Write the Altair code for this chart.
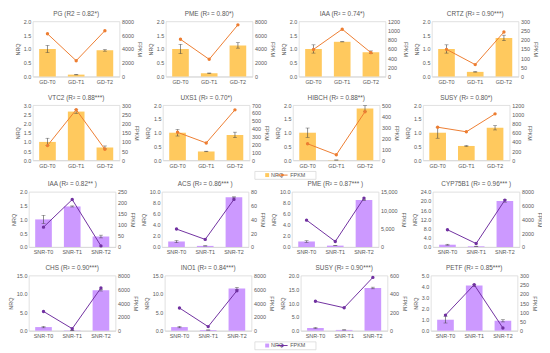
import altair as alt
import pandas as pd

GD = ["GD-T0", "GD-T1", "GD-T2"]
SNR = ["SNR-T0", "SNR-T1", "SNR-T2"]

titles = [
    "PG (R2 = 0.82*)", "PME (R² = 0.80*)", "IAA (R² = 0.74*)", "CRTZ (R² = 0.90***)",
    "VTC2 (R² = 0.88***)", "UXS1 (R² = 0.70*)", "HIBCH (R² = 0.88**)", "SUSY (R² = 0.80*)",
    "IAA (R² = 0.82** )", "ACS (R² = 0.86*** )", "PME (R² = 0.87*** )", "CYP75B1 (R² = 0.96*** )",
    "CHS (R² = 0.90***)", "INO1 (R² = 0.84***)", "SUSY (R² = 0.90***)", "PETF (R² = 0.85***)",
]

nrq = [
    [1.0, 0.07, 0.95], [1.0, 0.12, 1.13], [1.0, 1.26, 0.88], [1.0, 0.17, 1.40],
    [1.0, 2.65, 0.70], [1.0, 0.32, 0.92], [1.0, 0.01, 1.88], [1.0, 0.52, 1.18],
    [1.0, 1.47, 0.38], [1.0, 0.20, 9.0], [1.0, 0.25, 8.5], [1.0, 0.30, 20.0],
    [1.0, 0.10, 11.0], [1.0, 0.20, 11.5], [1.0, 0.30, 15.5], [1.0, 4.10, 0.90],
]
nrq_err = [
    [0.13, 0.01, 0.03], [0.17, 0.01, 0.10], [0.15, 0.005, 0.05], [0.15, 0.01, 0.10],
    [0.20, 0.10, 0.08], [0.12, 0.01, 0.10], [0.17, 0.0, 0.10], [0.20, 0.02, 0.08],
    [0.15, 0.02, 0.05], [0.20, 0.02, 0.10], [0.15, 0.02, 0.10], [0.20, 0.05, 0.50],
    [0.20, 0.02, 0.20], [0.20, 0.02, 0.30], [0.20, 0.05, 0.30], [0.30, 0.10, 0.10],
]
fpkm = [
    [6200, 2300, 6650], [5400, 2500, 7500], [590, 1030, 520], [148, 65, 242],
    [80, 275, 60], [355, 220, 640], [150, 50, 440], [720, 620, 1010],
    [90, 215, 5], [26, 11, 69], [7300, 1500, 13300], [2500, 500, 6800],
    [2800, 300, 6200], [3300, 600, 5800], [320, 250, 580], [85, 250, 15],
]
nrq_ticks = [
    [0, 0.5, 1.0, 1.5, 2.0], [0, 0.5, 1.0, 1.5, 2.0], [0, 0.5, 1.0, 1.5, 2.0], [0, 0.5, 1.0, 1.5, 2.0],
    [0, 0.5, 1.0, 1.5, 2.0, 2.5, 3.0], [0, 0.5, 1.0, 1.5, 2.0], [0, 0.5, 1.0, 1.5, 2.0], [0, 0.5, 1.0, 1.5, 2.0],
    [0, 0.5, 1.0, 1.5, 2.0], [0, 2, 4, 6, 8, 10], [0, 2, 4, 6, 8, 10], [0, 4, 8, 12, 16, 20, 24],
    [0, 5, 10, 15], [0, 5, 10, 15], [0, 5, 10, 15, 20], [0, 1, 2, 3, 4, 5],
]
fpkm_ticks = [
    [0, 2000, 4000, 6000, 8000], [0, 2000, 4000, 6000, 8000], [0, 200, 400, 600, 800, 1000, 1200],
    [0, 50, 100, 150, 200, 250, 300],
    [0, 50, 100, 150, 200, 250, 300], [0, 100, 200, 300, 400, 500, 600, 700], [0, 100, 200, 300, 400, 500],
    [0, 200, 400, 600, 800, 1000, 1200],
    [0, 50, 100, 150, 200, 250], [0, 20, 40, 60, 80], [0, 5000, 10000, 15000], [0, 2000, 4000, 6000, 8000],
    [0, 2000, 4000, 6000, 8000], [0, 2000, 4000, 6000, 8000], [0, 200, 400, 600], [0, 50, 100, 150, 200, 250, 300],
]
fpkm_fmt = ["d"] * 10 + [",.0f"] + ["d"] * 5

ORANGE_BAR, ORANGE_LINE = "#FFC95E", "#ED7D31"
PURPLE_BAR, PURPLE_LINE = "#CC99FF", "#7030A0"
TXT = "#595959"
FONT = "Liberation Sans"
W, H = 88, 56


def panel(i):
    cats = GD if i < 8 else SNR
    bar_c, line_c = (ORANGE_BAR, ORANGE_LINE) if i < 8 else (PURPLE_BAR, PURPLE_LINE)
    df = pd.DataFrame({
        "t": cats,
        "nrq": nrq[i],
        "lo": [v - e for v, e in zip(nrq[i], nrq_err[i])],
        "hi": [v + e for v, e in zip(nrq[i], nrq_err[i])],
        "fpkm": fpkm[i],
    })
    xenc = alt.X("t:N", sort=cats, title=None,
                 scale=alt.Scale(paddingInner=0.42, paddingOuter=0.22),
                 axis=alt.Axis(labelAngle=0, domainColor="#d9d9d9", ticks=False, labelPadding=3))
    yq = alt.Scale(domain=[nrq_ticks[i][0], nrq_ticks[i][-1]], nice=False)
    yf = alt.Scale(domain=[fpkm_ticks[i][0], fpkm_ticks[i][-1]], nice=False)
    yax = alt.Axis(title="NRQ", orient="left", values=nrq_ticks[i], format=".1f",
                   domain=False, ticks=False, titlePadding=3)
    base = alt.Chart(df)
    bars = base.mark_bar(color=bar_c).encode(
        x=xenc, y=alt.Y("nrq:Q", scale=yq, axis=yax, title="NRQ"))
    err = base.mark_rule(color="#404040", strokeWidth=0.6).encode(
        x=xenc, y=alt.Y("lo:Q", scale=yq, axis=yax, title="NRQ"), y2="hi:Q")
    cap_lo = base.mark_tick(color="#404040", size=4, thickness=0.6).encode(
        x=xenc, y=alt.Y("lo:Q", scale=yq, axis=yax, title="NRQ"))
    cap_hi = base.mark_tick(color="#404040", size=4, thickness=0.6).encode(
        x=xenc, y=alt.Y("hi:Q", scale=yq, axis=yax, title="NRQ"))
    left = alt.layer(bars, err, cap_lo, cap_hi)
    line = base.mark_line(color=line_c, strokeWidth=1.0,
                          point=alt.OverlayMarkDef(filled=True, size=12, color=line_c)).encode(
        x=xenc,
        y=alt.Y("fpkm:Q", scale=yf,
                axis=alt.Axis(title="FPKM", orient="right", values=fpkm_ticks[i], format=fpkm_fmt[i],
                              domain=False, ticks=False, titlePadding=3, titleAngle=90)),
    )
    return alt.layer(left, line).resolve_scale(y="independent").properties(
        width=W, height=H,
        title=alt.TitleParams(titles[i], fontSize=6.5, font=FONT, fontWeight="normal",
                              color=TXT, offset=2),
    )


LEG_KEYS = ["NRQ", "FPKM"]


def legend(bar_c, line_c):
    df = pd.DataFrame({"k": LEG_KEYS})
    xs = alt.X("k:N", sort=LEG_KEYS,
               scale=alt.Scale(type="point", domain=LEG_KEYS, range=[5, 36]), axis=None)
    b = alt.Chart(df)
    sq = b.transform_filter(alt.datum.k == "NRQ").mark_point(
        shape="square", filled=True, size=16, color=bar_c, opacity=1).encode(x=xs)
    t1 = b.transform_filter(alt.datum.k == "NRQ").mark_text(
        align="left", dx=4, fontSize=5.5, font=FONT, color=TXT).encode(x=xs, text="k:N")
    ln = b.transform_filter(alt.datum.k == "FPKM").mark_point(
        shape="stroke", size=110, color=line_c, strokeWidth=1.0, opacity=1).encode(x=xs)
    dot = b.transform_filter(alt.datum.k == "FPKM").mark_point(
        shape="circle", filled=True, size=8, color=line_c, opacity=1).encode(x=xs)
    t2 = b.transform_filter(alt.datum.k == "FPKM").mark_text(
        align="left", dx=8, fontSize=5.5, font=FONT, color=TXT).encode(x=xs, text="k:N")
    return alt.layer(sq, t1, ln, dot, t2).properties(width=62, height=8)


rows = [alt.hconcat(*[panel(r * 4 + c) for c in range(4)], spacing=5) for r in range(4)]
sec1 = alt.vconcat(rows[0], rows[1], spacing=9)
sec2 = alt.vconcat(rows[2], rows[3], spacing=9)

chart = alt.vconcat(
    sec1, legend(ORANGE_BAR, ORANGE_LINE), sec2, legend(PURPLE_BAR, PURPLE_LINE),
    spacing=1, center=True,
).properties(padding=0).configure_view(stroke="#d9d9d9", strokeWidth=0.8).configure_axis(
    labelFontSize=5.5, titleFontSize=5.5, labelColor=TXT, titleColor=TXT,
    labelFont=FONT, titleFont=FONT, titleFontWeight="normal", grid=False,
).configure_concat(spacing=5)

chart.save("out.html", embed_options={"renderer": "svg", "actions": False})
